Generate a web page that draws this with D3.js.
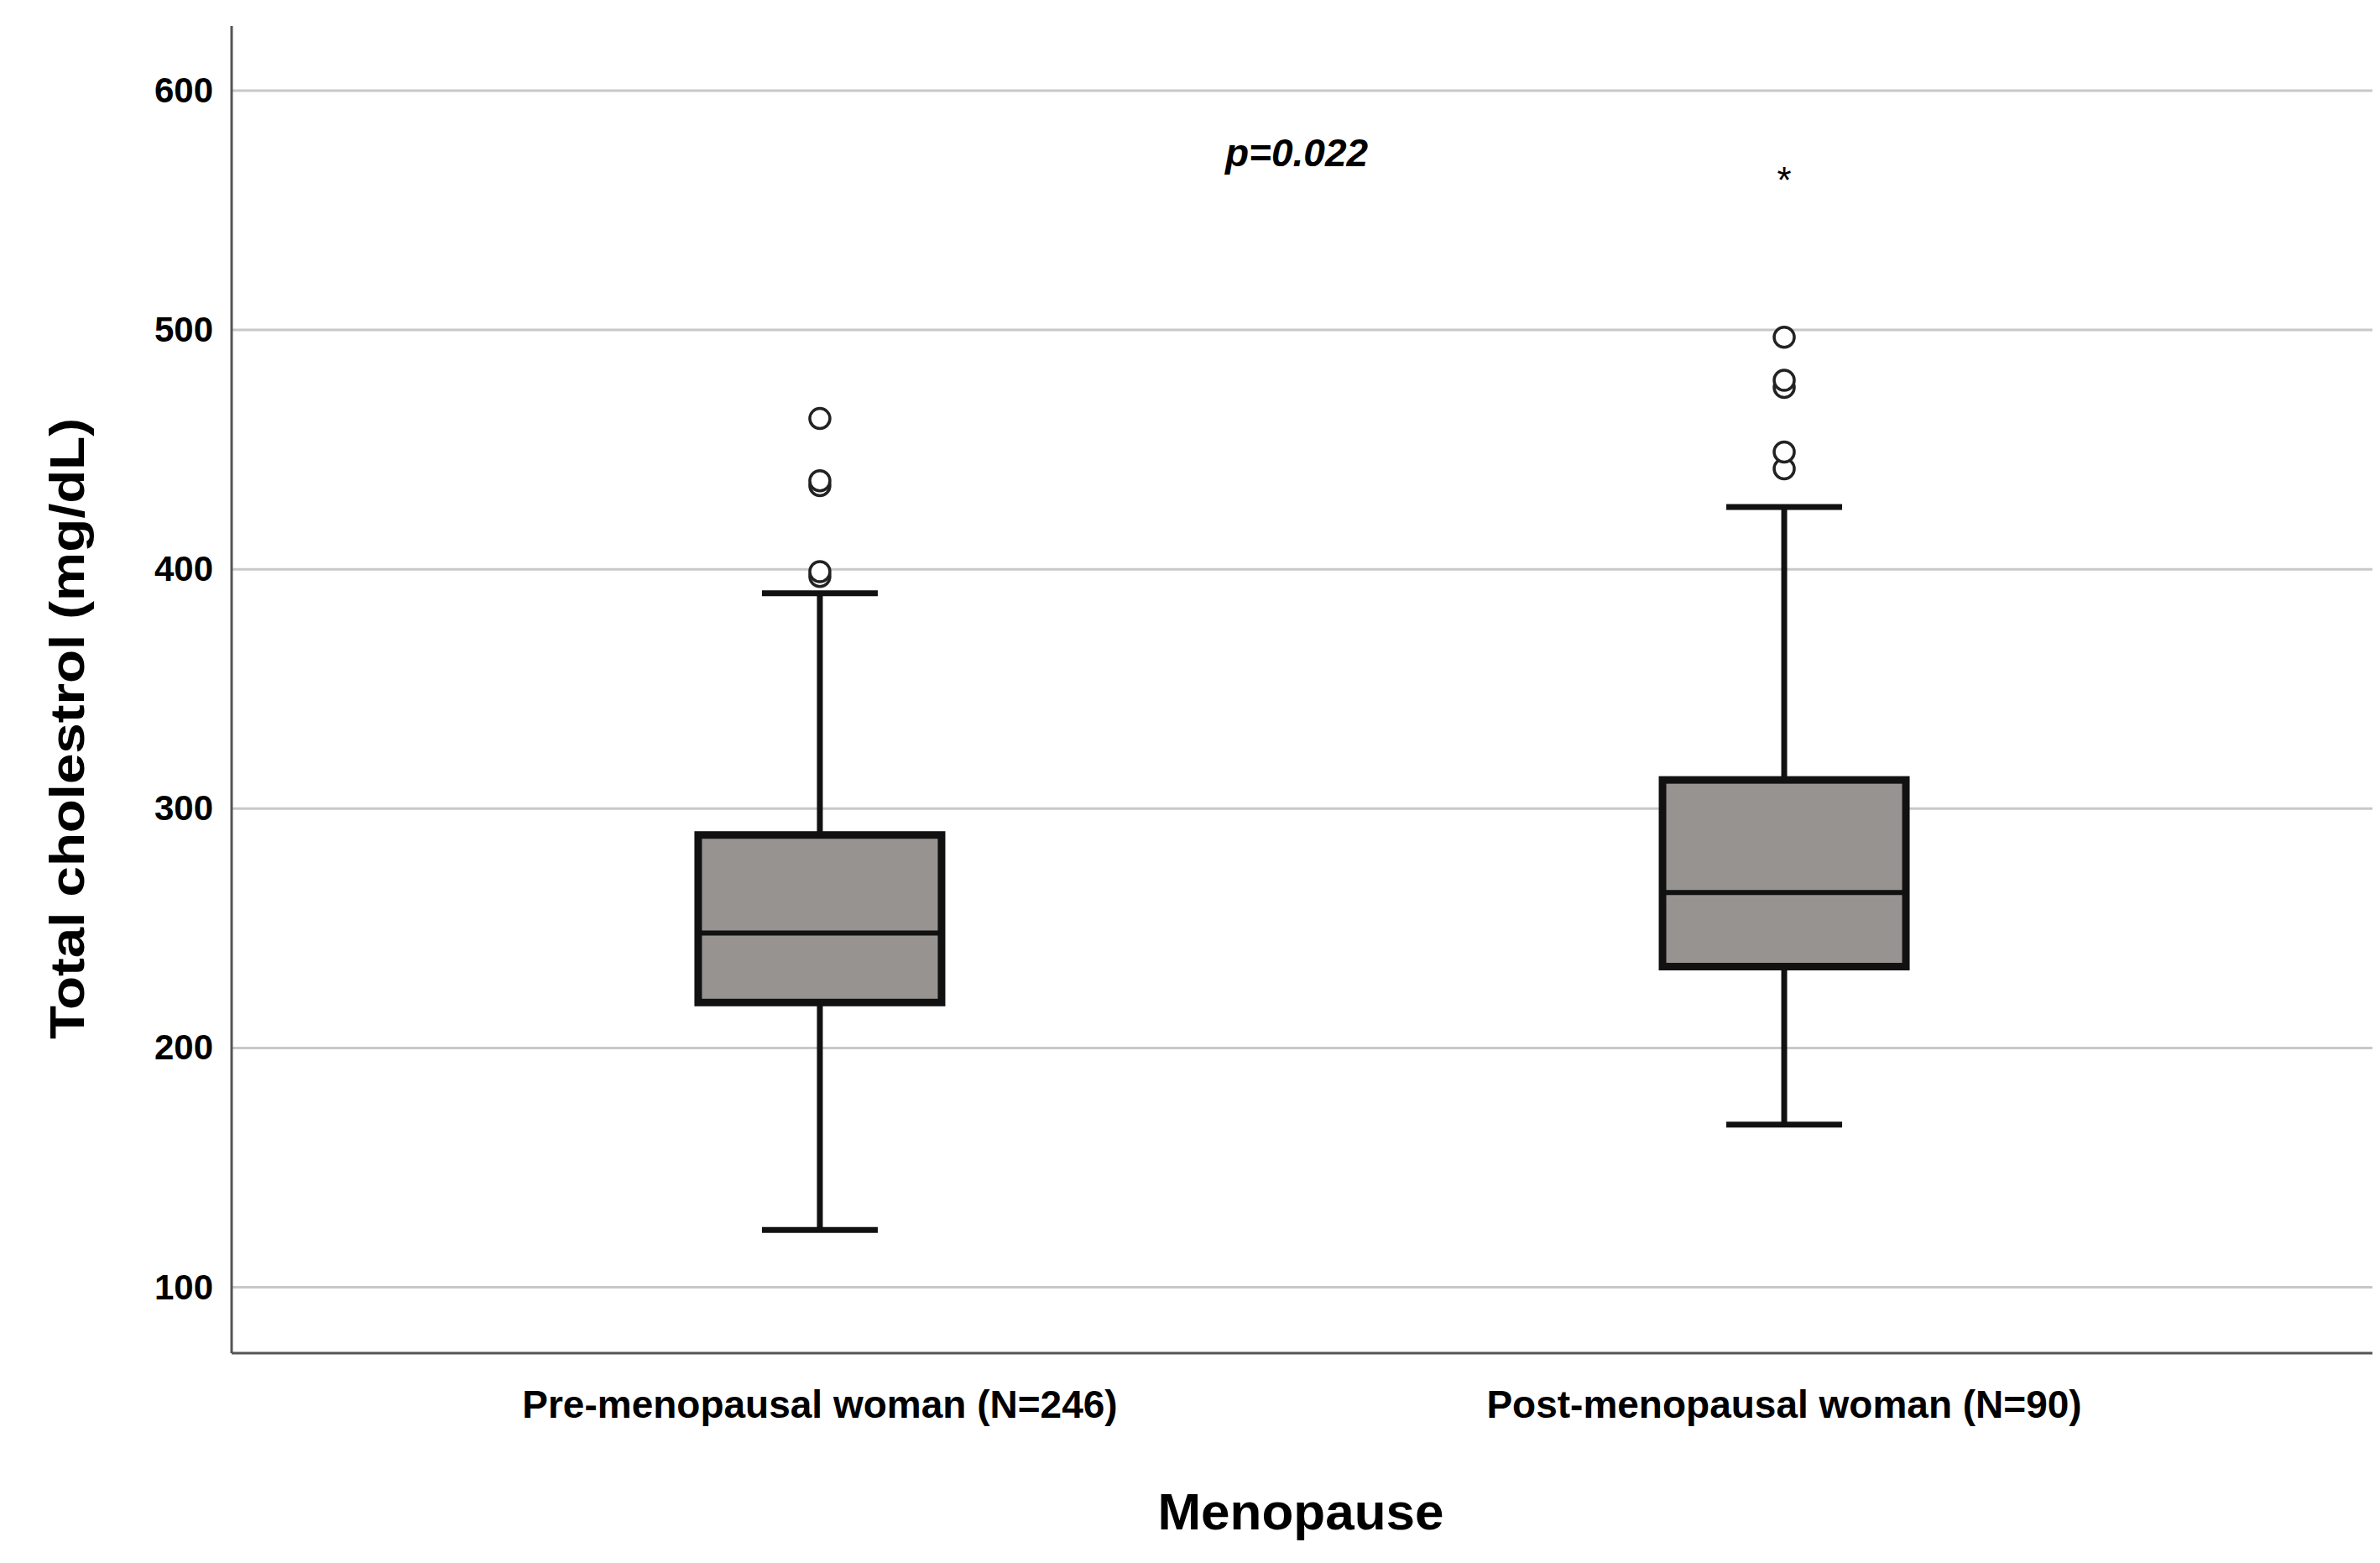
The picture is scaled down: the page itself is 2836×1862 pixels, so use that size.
<!DOCTYPE html><html><head><meta charset="utf-8">
<script src="https://cdn.jsdelivr.net/npm/d3@7"></script>
<style>body{margin:0;background:#fff}svg{display:block}</style></head><body>
<script>
const categories = ["Pre-menopausal woman (N=246)", "Post-menopausal woman (N=90)"];
const whiskerLow = [124, 168];
const q1 = [219, 234];
const median = [248, 265];
const q3 = [289, 312];
const whiskerHigh = [390, 426];
const outliers = [[397, 399, 435, 437, 463], [442, 449, 476, 479, 497]];
const extremes = [[], [565]];
const yTicks = [100, 200, 300, 400, 500, 600];

(function () {
const W = 2836, H = 1862;
const svg = d3.select("body").append("svg").attr("width", W).attr("height", H);
const pL = 276, pR = 2827, pT = 31, pB = 1612;
const y = d3.scaleLinear().domain([72.5, 627]).range([pB, pT]);
const x = d3.scaleBand().domain(categories).range([pL, pR]).paddingInner(0.1).paddingOuter(0.16);
const font = "Arial, 'Liberation Sans', sans-serif";

svg.append("g").selectAll("line").data(yTicks).join("line")
  .attr("x1", pL).attr("x2", pR).attr("y1", d => y(d)).attr("y2", d => y(d))
  .attr("stroke", "#c8c8c8").attr("stroke-width", 3);
const ax = svg.append("g").attr("transform", `translate(${pL},0)`)
  .call(d3.axisLeft(y).tickValues(yTicks).tickSize(0).tickPadding(22));
ax.select(".domain").remove();
ax.selectAll("text").attr("font-family", font).attr("font-weight", "bold").attr("font-size", 42).attr("fill", "#000");
svg.append("line").attr("x1", pL).attr("x2", pL).attr("y1", pT).attr("y2", pB).attr("stroke", "#555").attr("stroke-width", 3);
svg.append("line").attr("x1", pL).attr("x2", pR).attr("y1", pB).attr("y2", pB).attr("stroke", "#555").attr("stroke-width", 3);

const bw = 290, cap = 138;
categories.forEach((c, i) => {
  const cx = x(c) + x.bandwidth() / 2;
  const g = svg.append("g");
  g.append("line").attr("x1", cx).attr("x2", cx).attr("y1", y(whiskerLow[i])).attr("y2", y(whiskerHigh[i])).attr("stroke", "#111").attr("stroke-width", 7);
  [whiskerLow[i], whiskerHigh[i]].forEach(v => g.append("line").attr("x1", cx - cap / 2).attr("x2", cx + cap / 2).attr("y1", y(v)).attr("y2", y(v)).attr("stroke", "#111").attr("stroke-width", 7));
  g.append("rect").attr("x", cx - bw / 2).attr("width", bw).attr("y", y(q3[i])).attr("height", y(q1[i]) - y(q3[i]))
    .attr("fill", "#979391").attr("stroke", "#111").attr("stroke-width", 9);
  g.append("line").attr("x1", cx - bw / 2).attr("x2", cx + bw / 2).attr("y1", y(median[i])).attr("y2", y(median[i])).attr("stroke", "#111").attr("stroke-width", 6);
  outliers[i].forEach(v => g.append("circle").attr("cx", cx).attr("cy", y(v)).attr("r", 12).attr("fill", "#fff").attr("stroke", "#222").attr("stroke-width", 3.5));
  extremes[i].forEach(v => g.append("text").attr("x", cx).attr("y", y(v) + 22).attr("text-anchor", "middle").attr("font-family", font).attr("font-size", 44).text("*"));
  svg.append("text").attr("x", cx).attr("y", 1689).attr("text-anchor", "middle").attr("font-family", font).attr("font-weight", "bold").attr("font-size", 46).text(c);
});

svg.append("text").attr("x", 1460).attr("y", 198).attr("font-family", font).attr("font-weight", "bold").attr("font-style", "italic").attr("font-size", 46).text("p=0.022");
svg.append("text").attr("x", 1550).attr("y", 1822).attr("text-anchor", "middle").attr("font-family", font).attr("font-weight", "bold").attr("font-size", 62).text("Menopause");
svg.append("text").attr("transform", "translate(100,868) rotate(-90)").attr("text-anchor", "middle").attr("font-family", font).attr("font-weight", "bold").attr("font-size", 58).attr("textLength", 740).attr("lengthAdjust", "spacingAndGlyphs").text("Total cholestrol (mg/dL)");
})();
</script></body></html>
